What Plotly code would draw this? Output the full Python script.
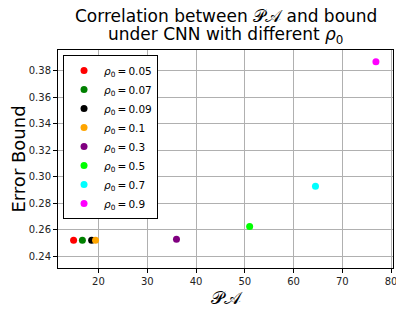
import plotly.graph_objects as go

rho_labels = ["0.05", "0.07", "0.09", "0.1", "0.3", "0.5", "0.7", "0.9"]
pa_values = [14.9, 16.7, 18.6, 19.4, 36.0, 51.0, 64.5, 76.9]
bound_values = [0.2522, 0.2522, 0.2522, 0.2522, 0.2530, 0.2625, 0.2930, 0.3868]
colors = ["red", "green", "black", "orange", "purple", "lime", "cyan", "magenta"]

x_ticks = [20, 30, 40, 50, 60, 70, 80]
y_ticks = [0.24, 0.26, 0.28, 0.30, 0.32, 0.34, 0.36, 0.38]

title_lines = ["Correlation between 𝒫𝒜 and bound",
               "under CNN with different <i>ρ</i><sub>0</sub>"]

fig = go.Figure()
for lab, xv, yv, c in zip(rho_labels, pa_values, bound_values, colors):
    fig.add_trace(go.Scatter(
        x=[xv], y=[yv], mode="markers",
        marker=dict(color=c, size=7),
        name=f"<i>ρ</i><sub>0</sub>\u2009=\u2009{lab}",
    ))

axis_common = dict(
    showline=True, linecolor="black", linewidth=1, mirror=True,
    ticks="outside", ticklen=4, tickcolor="black",
    showgrid=True, gridcolor="#b0b0b0", gridwidth=1,
    zeroline=False, automargin=False,
    tickfont=dict(family="DejaVu Sans", size=10, color="#222"),
)

# page body has an 8px default margin, so the figure is sized to fit the window
fig.update_layout(
    width=396, height=306,
    margin=dict(l=50, r=11, t=42, b=46),
    paper_bgcolor="white", plot_bgcolor="white",
    font=dict(family="DejaVu Sans", color="black"),
    xaxis=dict(axis_common, range=[11.7, 80.4], tickvals=x_ticks,
               title=dict(text="𝒫𝒜", font=dict(size=18), standoff=4)),
    yaxis=dict(axis_common, range=[0.2313, 0.3956], tickvals=y_ticks,
               tickformat=".2f",
               title=dict(text="Error Bound", font=dict(size=18), standoff=6)),
    legend=dict(
        x=0.015, y=0.977, xanchor="left", yanchor="top",
        bgcolor="white", bordercolor="black", borderwidth=1,
        font=dict(size=10.5, family="DejaVu Sans"),
        itemsizing="trace", tracegroupgap=0, itemwidth=30,
    ),
    showlegend=True,
    annotations=[
        dict(text=title_lines[0], xref="paper", yref="paper", x=0.5, y=1.0,
             xanchor="center", yanchor="middle", yshift=34, showarrow=False,
             font=dict(size=17, family="DejaVu Sans", color="black")),
        dict(text=title_lines[1], xref="paper", yref="paper", x=0.5, y=1.0,
             xanchor="center", yanchor="middle", yshift=15, showarrow=False,
             font=dict(size=17, family="DejaVu Sans", color="black")),
    ],
)

fig.write_html("out.html")
